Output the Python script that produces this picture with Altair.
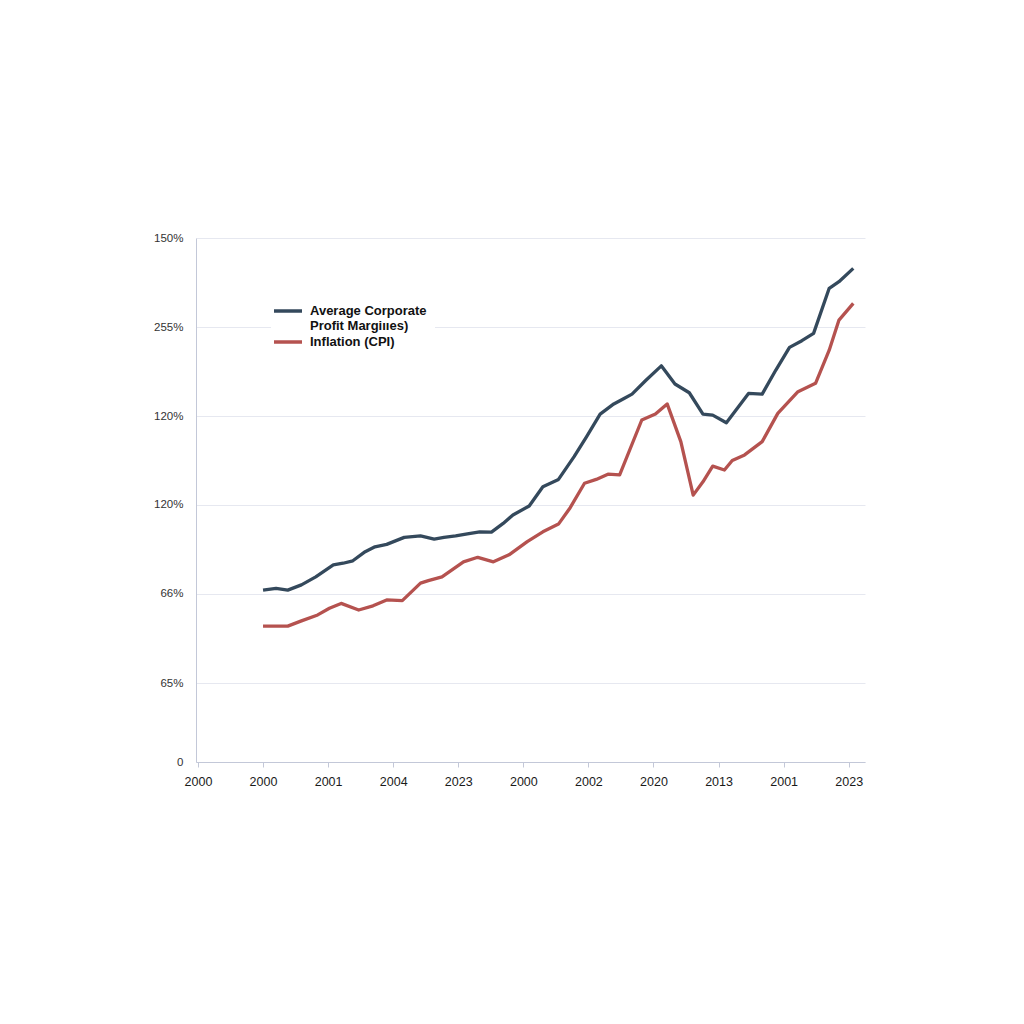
import json
import altair as alt
import pandas as pd

# ---- data ------------------------------------------------------------------
X_TICK_LABELS = ["2000", "2000", "2001", "2004", "2023", "2000",
                 "2002", "2020", "2013", "2001", "2023"]
Y_TICK_VALUES = [0, 22.6, 48.1, 73.6, 99.0, 124.5, 150]
Y_TICK_LABELS = ["0", "65%", "66%", "120%", "120%", "255%", "150%"]

SERIES = ["Average Corporate Profit Margiııes)", "Inflation (CPI)"]
COLORS = ["#34495c", "#b5524f"]

PROFIT_X = [1.00, 1.20, 1.38, 1.59, 1.81, 2.08, 2.23, 2.38, 2.57, 2.72,
            2.90, 3.17, 3.42, 3.63, 3.78, 3.96, 4.14, 4.33, 4.51, 4.69,
            4.84, 5.09, 5.30, 5.54, 5.78, 5.97, 6.18, 6.39, 6.54, 6.67,
            6.88, 7.12, 7.33, 7.55, 7.76, 7.91, 8.12, 8.46, 8.67, 8.88,
            9.09, 9.28, 9.46, 9.70, 9.85, 10.07]
PROFIT_Y = [49.2, 49.7, 49.2, 50.7, 53.0, 56.4, 56.9, 57.6, 60.2, 61.6,
            62.3, 64.3, 64.7, 63.8, 64.3, 64.7, 65.3, 65.9, 65.8, 68.3,
            70.7, 73.3, 78.8, 80.9, 87.4, 93.1, 99.6, 102.5, 104.0, 105.3,
            109.2, 113.4, 108.2, 105.7, 99.6, 99.3, 97.1, 105.5, 105.3, 112.2,
            118.7, 120.6, 122.7, 135.6, 137.5, 141.3]

CPI_X = [1.00, 1.38, 1.59, 1.84, 2.02, 2.20, 2.47, 2.69, 2.90, 3.14,
         3.42, 3.54, 3.75, 4.08, 4.30, 4.54, 4.78, 5.06, 5.30, 5.54,
         5.72, 5.94, 6.12, 6.30, 6.48, 6.82, 7.03, 7.21, 7.42, 7.61,
         7.76, 7.91, 8.09, 8.21, 8.40, 8.67, 8.91, 9.22, 9.49, 9.70,
         9.85, 10.07]
CPI_Y = [38.9, 38.9, 40.4, 42.1, 44.0, 45.4, 43.5, 44.7, 46.4, 46.2,
         51.2, 51.9, 53.0, 57.3, 58.6, 57.3, 59.3, 63.1, 65.9, 68.1,
         72.8, 79.8, 80.9, 82.4, 82.2, 97.9, 99.6, 102.5, 91.7, 76.4,
         80.2, 84.7, 83.6, 86.3, 87.9, 91.7, 99.8, 106.0, 108.4, 117.9,
         126.5, 131.3]

# ---- table -------------------------------------------------------------------
rows = []
for i, (x, y) in enumerate(zip(PROFIT_X, PROFIT_Y)):
    rows.append({"series": SERIES[0], "x": x, "y": y, "i": i})
for i, (x, y) in enumerate(zip(CPI_X, CPI_Y)):
    rows.append({"series": SERIES[1], "x": x, "y": y, "i": i})
df = pd.DataFrame(rows)

x_label_expr = json.dumps(X_TICK_LABELS) + "[datum.value]"
y_label_expr = (json.dumps(Y_TICK_LABELS) + "[indexof(" +
                json.dumps(Y_TICK_VALUES) + ", datum.value)]")
legend_label_expr = ("datum.label == '" + SERIES[0] +
                     "' ? ['Average Corporate', 'Profit Margiııes)'] : datum.label")

FONT = "Liberation Sans"
AXIS_COLOR = "#c3c8d8"

chart = alt.Chart(df).mark_line(strokeWidth=3.3, strokeJoin="round").encode(
    x=alt.X("x:Q",
            scale=alt.Scale(domain=[-0.03, 10.25], nice=False, zero=False),
            axis=alt.Axis(values=list(range(11)), labelExpr=x_label_expr,
                          title=None, grid=False, domainColor=AXIS_COLOR,
                          tickColor=AXIS_COLOR, tickSize=5, labelPadding=8,
                          labelFontSize=12.5, labelColor="#1a1a1a",
                          labelFont=FONT, labelFlush=False)),
    y=alt.Y("y:Q",
            scale=alt.Scale(domain=[0, 150], nice=False, zero=True),
            axis=alt.Axis(values=Y_TICK_VALUES, labelExpr=y_label_expr,
                          title=None, grid=True, gridColor="#e6e8f0",
                          domainColor=AXIS_COLOR, ticks=False,
                          labelPadding=13, labelFontSize=11.5,
                          labelColor="#333333", labelFont=FONT)),
    color=alt.Color("series:N",
                    scale=alt.Scale(domain=SERIES, range=COLORS),
                    legend=alt.Legend(title=None, orient="none",
                                      legendX=75, legendY=56,
                                      symbolType="M-2,0H2",
                                      symbolStrokeWidth=3.5,
                                      symbolSize=196,
                                      labelExpr=legend_label_expr,
                                      labelFont=FONT, labelFontSize=13,
                                      labelFontWeight="bold",
                                      labelColor="#111111",
                                      labelOffset=13, labelLimit=400,
                                      fillColor="white", padding=8,
                                      rowPadding=0)),
    order="i:Q",
).properties(
    width=669,
    height=524,
    autosize=alt.AutoSizeParams(type="none"),
    padding={"left": 188, "top": 230, "right": 20, "bottom": 60},
    background="white",
).configure_view(stroke=None)

chart.save("out.html", embed_options={"renderer": "svg", "actions": False})
